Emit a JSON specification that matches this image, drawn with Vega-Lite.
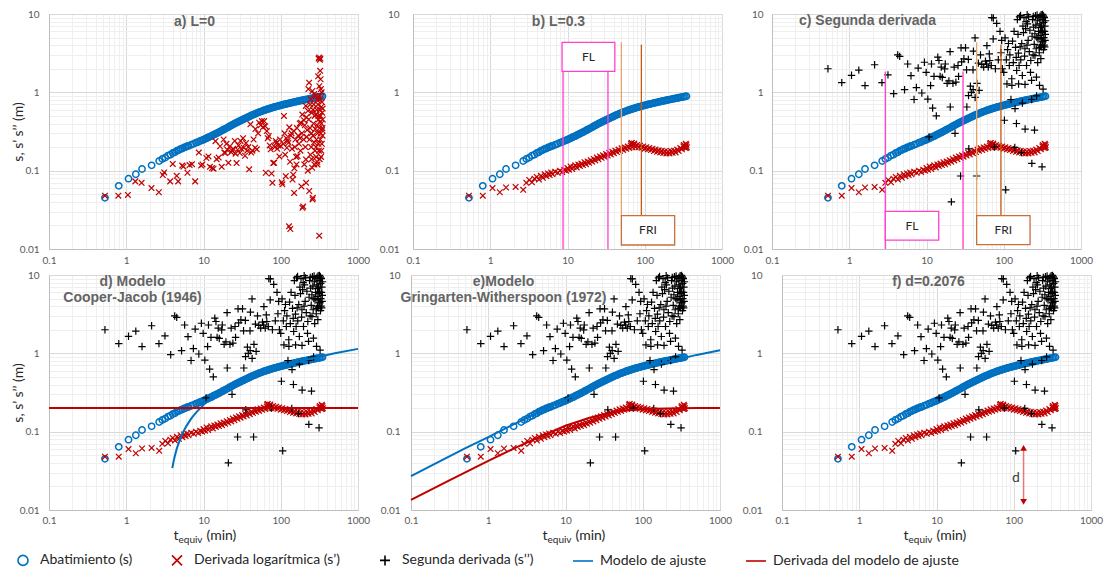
{
"$schema":"https://vega.github.io/schema/vega-lite/v6.json",
"padding":{"left":10,"top":7,"right":0,"bottom":0},
"config":{
"view":{"stroke":"#d9d9d9","strokeWidth":1},
"axis":{"labelFont":"Lato","labelFontSize":10,"labelColor":"#595959","ticks":false,"tickSize":0,"domainColor":"#bfbfbf","titleFont":"Lato","titleFontSize":14,"titleFontWeight":"normal","titleColor":"#262626","labelOverlap":false,"gridWidth":1},
"title":{"font":"Liberation Sans","fontSize":14,"fontWeight":"bold","color":"#646464","lineHeight":16},
"legend":{"labelFont":"Lato","labelFontSize":14,"labelColor":"#262626","labelLimit":400,"symbolSize":100,"symbolStrokeWidth":1.6,"columnPadding":35,"labelOffset":10,"padding":0,"symbolOpacity":1},
"range":{"category":["#0070c0","#c00000","#000000","#0070c0","#c00000"],"symbol":["circle","M-1,-1L1,1M1,-1L-1,1","M-1,0L1,0M0,-1L0,1","M-2,0L2,0","M-2,0L2,0"]}
},
"datasets":{
"s":[{"t":0.53,"v":0.045},{"t":0.8,"v":0.064},{"t":1.07,"v":0.079},{"t":1.33,"v":0.09},{"t":1.6,"v":0.105},{"t":2.13,"v":0.117},{"t":2.67,"v":0.133},{"t":2.93,"v":0.141},{"t":3.2,"v":0.147},{"t":3.47,"v":0.156},{"t":3.73,"v":0.16},{"t":4.0,"v":0.168},{"t":4.27,"v":0.172},{"t":4.53,"v":0.18},{"t":4.8,"v":0.183},{"t":5.07,"v":0.19},{"t":5.33,"v":0.192},{"t":5.6,"v":0.198},{"t":5.87,"v":0.2},{"t":6.13,"v":0.205},{"t":6.4,"v":0.207},{"t":6.93,"v":0.214},{"t":7.47,"v":0.22},{"t":8.0,"v":0.228},{"t":8.53,"v":0.232},{"t":9.07,"v":0.24},{"t":9.6,"v":0.244},{"t":10,"v":0.249},{"t":10.47,"v":0.254},{"t":10.96,"v":0.26},{"t":11.48,"v":0.265},{"t":12.02,"v":0.271},{"t":12.59,"v":0.276},{"t":13.18,"v":0.283},{"t":13.8,"v":0.29},{"t":14.45,"v":0.296},{"t":15.14,"v":0.303},{"t":15.85,"v":0.31},{"t":16.6,"v":0.318},{"t":17.38,"v":0.326},{"t":18.2,"v":0.334},{"t":19.05,"v":0.342},{"t":19.95,"v":0.35},{"t":20.89,"v":0.359},{"t":21.88,"v":0.369},{"t":22.91,"v":0.378},{"t":23.99,"v":0.388},{"t":25.12,"v":0.397},{"t":26.3,"v":0.407},{"t":27.54,"v":0.416},{"t":28.84,"v":0.426},{"t":30.2,"v":0.435},{"t":31.62,"v":0.445},{"t":33.11,"v":0.455},{"t":34.67,"v":0.465},{"t":36.31,"v":0.475},{"t":38.02,"v":0.485},{"t":39.81,"v":0.495},{"t":41.69,"v":0.506},{"t":43.65,"v":0.516},{"t":45.71,"v":0.527},{"t":47.86,"v":0.537},{"t":50.12,"v":0.548},{"t":52.48,"v":0.558},{"t":54.95,"v":0.568},{"t":57.54,"v":0.577},{"t":60.26,"v":0.587},{"t":63.1,"v":0.597},{"t":66.07,"v":0.606},{"t":69.18,"v":0.615},{"t":72.44,"v":0.624},{"t":75.86,"v":0.633},{"t":79.43,"v":0.642},{"t":83.18,"v":0.65},{"t":87.1,"v":0.658},{"t":91.2,"v":0.667},{"t":95.5,"v":0.675},{"t":100,"v":0.683},{"t":104.7,"v":0.691},{"t":109.6,"v":0.699},{"t":114.8,"v":0.706},{"t":120.2,"v":0.714},{"t":125.9,"v":0.722},{"t":131.8,"v":0.73},{"t":138,"v":0.738},{"t":144.5,"v":0.746},{"t":151.4,"v":0.754},{"t":158.5,"v":0.762},{"t":166,"v":0.77},{"t":173.8,"v":0.777},{"t":182,"v":0.785},{"t":190.5,"v":0.792},{"t":199.5,"v":0.8},{"t":208.9,"v":0.808},{"t":218.8,"v":0.815},{"t":229.1,"v":0.823},{"t":239.9,"v":0.83},{"t":251.2,"v":0.838},{"t":263,"v":0.846},{"t":275.4,"v":0.853},{"t":288.4,"v":0.861},{"t":302,"v":0.868},{"t":316.2,"v":0.876},{"t":331.1,"v":0.884},{"t":346.7,"v":0.893}],
"ds0":[{"t":0.53,"v":0.048},{"t":0.79,"v":0.048},{"t":1.05,"v":0.049},{"t":1.31,"v":0.073},{"t":1.58,"v":0.07},{"t":2.12,"v":0.06},{"t":2.64,"v":0.053},{"t":2.97,"v":0.088},{"t":3.1,"v":0.095},{"t":3.7,"v":0.073},{"t":4.0,"v":0.122},{"t":4.5,"v":0.086},{"t":4.7,"v":0.073},{"t":5.3,"v":0.116},{"t":5.5,"v":0.113},{"t":6.2,"v":0.094},{"t":6.6,"v":0.118},{"t":7.1,"v":0.121},{"t":7.8,"v":0.073},{"t":8.7,"v":0.17},{"t":9.3,"v":0.116},{"t":9.7,"v":0.12},{"t":10.9,"v":0.145},{"t":11.6,"v":0.152},{"t":12.1,"v":0.112},{"t":12.9,"v":0.108},{"t":13.5,"v":0.106},{"t":14.3,"v":0.238},{"t":14.8,"v":0.14},{"t":15.7,"v":0.147},{"t":16.4,"v":0.205},{"t":17.2,"v":0.112},{"t":18.2,"v":0.25},{"t":18.6,"v":0.17},{"t":19.2,"v":0.168},{"t":19.8,"v":0.22},{"t":20.3,"v":0.185},{"t":21,"v":0.126},{"t":22,"v":0.205},{"t":22.8,"v":0.172},{"t":23.5,"v":0.18},{"t":24.2,"v":0.19},{"t":25.4,"v":0.24},{"t":26,"v":0.165},{"t":26.8,"v":0.125},{"t":27.6,"v":0.185},{"t":28.4,"v":0.21},{"t":29.5,"v":0.168},{"t":30.2,"v":0.24},{"t":31,"v":0.19},{"t":32.5,"v":0.26},{"t":33.2,"v":0.196},{"t":34.5,"v":0.155},{"t":35.5,"v":0.225},{"t":36.8,"v":0.18},{"t":38,"v":0.2},{"t":39,"v":0.104},{"t":40.5,"v":0.39},{"t":41.5,"v":0.17},{"t":43,"v":0.18},{"t":44.5,"v":0.25},{"t":46.5,"v":0.196},{"t":47,"v":0.34},{"t":49,"v":0.187},{"t":51,"v":0.3},{"t":52.5,"v":0.41},{"t":55,"v":0.38},{"t":57,"v":0.43},{"t":59,"v":0.36},{"t":61,"v":0.43},{"t":63,"v":0.37},{"t":64,"v":0.094},{"t":66,"v":0.32},{"t":68,"v":0.26},{"t":70,"v":0.277},{"t":72,"v":0.21},{"t":74,"v":0.187},{"t":76,"v":0.092},{"t":78,"v":0.07},{"t":80,"v":0.125},{"t":82,"v":0.126},{"t":84,"v":0.2},{"t":86,"v":0.24},{"t":88,"v":0.226},{"t":90,"v":0.19},{"t":93,"v":0.21},{"t":96,"v":0.152},{"t":98,"v":0.25},{"t":100,"v":0.206},{"t":103,"v":0.071},{"t":105,"v":0.067},{"t":108,"v":0.22},{"t":110,"v":0.5},{"t":112,"v":0.3},{"t":114,"v":0.16},{"t":116,"v":0.085},{"t":118,"v":0.26},{"t":120,"v":0.196},{"t":123,"v":0.24},{"t":126,"v":0.227},{"t":128,"v":0.0195},{"t":129,"v":0.357},{"t":132,"v":0.13},{"t":133,"v":0.018},{"t":135,"v":0.28},{"t":138,"v":0.3},{"t":140,"v":0.19},{"t":142,"v":0.077},{"t":145,"v":0.089},{"t":148,"v":0.32},{"t":149,"v":0.052},{"t":150,"v":0.107},{"t":152,"v":0.2},{"t":155,"v":0.25},{"t":158,"v":0.15},{"t":160,"v":0.12},{"t":162,"v":0.35},{"t":165,"v":0.153},{"t":168,"v":0.28},{"t":172,"v":0.22},{"t":176,"v":0.4},{"t":178,"v":0.26},{"t":180,"v":0.18},{"t":182,"v":0.41},{"t":185,"v":0.063},{"t":188,"v":0.3},{"t":190,"v":0.52},{"t":191,"v":0.0335},{"t":195,"v":0.035},{"t":198,"v":0.25},{"t":200,"v":0.44},{"t":202,"v":0.12},{"t":205,"v":0.38},{"t":208,"v":0.2},{"t":211,"v":0.67},{"t":212,"v":0.139},{"t":213,"v":0.07},{"t":215,"v":0.48},{"t":216,"v":0.27},{"t":220,"v":0.33},{"t":224,"v":0.1},{"t":225,"v":0.58},{"t":228,"v":1.1},{"t":230,"v":0.45},{"t":233,"v":1.33},{"t":234,"v":0.055},{"t":236,"v":0.25},{"t":240,"v":0.35},{"t":241,"v":0.7},{"t":242,"v":0.16},{"t":245,"v":0.82},{"t":248,"v":0.2},{"t":250,"v":0.3},{"t":251,"v":0.14},{"t":252,"v":0.55},{"t":255,"v":0.109},{"t":257,"v":1.04},{"t":258,"v":0.043},{"t":260,"v":0.045},{"t":261,"v":0.6},{"t":262,"v":0.28},{"t":265,"v":0.4},{"t":268,"v":0.7},{"t":270,"v":0.23},{"t":271,"v":0.95},{"t":272,"v":0.12},{"t":275,"v":0.5},{"t":278,"v":0.18},{"t":280,"v":0.34},{"t":283,"v":0.9},{"t":285,"v":0.52},{"t":286,"v":0.2},{"t":287,"v":0.15},{"t":290,"v":0.25},{"t":292,"v":0.6},{"t":295,"v":0.38},{"t":296,"v":0.8},{"t":297,"v":0.13},{"t":299,"v":0.12},{"t":300,"v":0.3},{"t":303,"v":0.7},{"t":305,"v":1.6},{"t":306,"v":0.5},{"t":307,"v":0.22},{"t":309,"v":2.7},{"t":310,"v":0.45},{"t":312,"v":0.18},{"t":314,"v":2.79},{"t":315,"v":0.0148},{"t":316,"v":1.2},{"t":317,"v":0.9},{"t":318,"v":0.35},{"t":319,"v":0.14},{"t":320,"v":0.6},{"t":321,"v":2.6},{"t":322,"v":0.42},{"t":323,"v":0.82},{"t":324,"v":1.88},{"t":325,"v":0.25},{"t":326,"v":2.7},{"t":327,"v":0.5},{"t":328,"v":1.47},{"t":330,"v":0.3},{"t":331,"v":1.1},{"t":332,"v":0.15},{"t":334,"v":0.65},{"t":335,"v":0.18},{"t":336,"v":0.4},{"t":338,"v":1.0},{"t":340,"v":0.22},{"t":342,"v":0.75},{"t":343,"v":0.33},{"t":344,"v":0.55},{"t":346,"v":0.35},{"t":348,"v":0.28},{"t":349,"v":0.62},{"t":350,"v":0.45}],
"ds":[{"t":0.53,"v":0.048},{"t":0.8,"v":0.048},{"t":1.07,"v":0.06},{"t":1.33,"v":0.053},{"t":1.6,"v":0.061},{"t":2.13,"v":0.062},{"t":2.67,"v":0.057},{"t":2.93,"v":0.07},{"t":3.2,"v":0.076},{"t":3.47,"v":0.071},{"t":3.73,"v":0.079},{"t":4.0,"v":0.083},{"t":4.27,"v":0.077},{"t":4.53,"v":0.086},{"t":4.8,"v":0.081},{"t":5.07,"v":0.09},{"t":5.33,"v":0.085},{"t":5.6,"v":0.092},{"t":5.87,"v":0.088},{"t":6.13,"v":0.095},{"t":6.4,"v":0.09},{"t":6.93,"v":0.097},{"t":7.47,"v":0.094},{"t":8.0,"v":0.1},{"t":8.53,"v":0.096},{"t":9.07,"v":0.103},{"t":9.6,"v":0.1},{"t":10,"v":0.108},{"t":10.47,"v":0.103},{"t":10.96,"v":0.113},{"t":11.48,"v":0.105},{"t":12.02,"v":0.111},{"t":12.59,"v":0.117},{"t":13.18,"v":0.11},{"t":13.8,"v":0.12},{"t":14.45,"v":0.115},{"t":15.14,"v":0.123},{"t":15.85,"v":0.118},{"t":16.6,"v":0.128},{"t":17.38,"v":0.121},{"t":18.2,"v":0.131},{"t":19.05,"v":0.126},{"t":19.95,"v":0.136},{"t":20.89,"v":0.13},{"t":21.88,"v":0.141},{"t":22.91,"v":0.135},{"t":23.99,"v":0.147},{"t":25.12,"v":0.14},{"t":26.3,"v":0.152},{"t":27.54,"v":0.146},{"t":28.84,"v":0.157},{"t":30.2,"v":0.151},{"t":31.62,"v":0.163},{"t":33.11,"v":0.156},{"t":34.67,"v":0.168},{"t":36.31,"v":0.161},{"t":38.02,"v":0.174},{"t":39.81,"v":0.167},{"t":41.69,"v":0.18},{"t":43.65,"v":0.173},{"t":45.71,"v":0.186},{"t":47.86,"v":0.179},{"t":50.12,"v":0.193},{"t":52.48,"v":0.184},{"t":54.95,"v":0.198},{"t":57.54,"v":0.19},{"t":60.26,"v":0.203},{"t":63.1,"v":0.195},{"t":66.07,"v":0.209},{"t":66.5,"v":0.222},{"t":68,"v":0.226},{"t":69.18,"v":0.199},{"t":72.44,"v":0.214},{"t":73,"v":0.222},{"t":75.86,"v":0.201},{"t":79.43,"v":0.212},{"t":83.18,"v":0.199},{"t":87.1,"v":0.208},{"t":91.2,"v":0.196},{"t":95.5,"v":0.204},{"t":100,"v":0.191},{"t":104.7,"v":0.199},{"t":109.6,"v":0.187},{"t":114.8,"v":0.195},{"t":120.2,"v":0.183},{"t":125.9,"v":0.19},{"t":131.8,"v":0.178},{"t":138,"v":0.186},{"t":144.5,"v":0.174},{"t":151.4,"v":0.182},{"t":158.5,"v":0.171},{"t":166,"v":0.179},{"t":173.8,"v":0.168},{"t":182,"v":0.177},{"t":190.5,"v":0.166},{"t":199.5,"v":0.175},{"t":208.9,"v":0.166},{"t":218.8,"v":0.178},{"t":229.1,"v":0.169},{"t":239.9,"v":0.18},{"t":251.2,"v":0.171},{"t":263,"v":0.186},{"t":275.4,"v":0.178},{"t":288.4,"v":0.194},{"t":302,"v":0.187},{"t":316.2,"v":0.204},{"t":320,"v":0.212},{"t":331.1,"v":0.196},{"t":335,"v":0.205},{"t":340,"v":0.22},{"t":345,"v":0.195},{"t":346.7,"v":0.213},{"t":350,"v":0.2}],
"d2s":[{"t":0.53,"v":2.0},{"t":0.8,"v":1.33},{"t":1.07,"v":1.65},{"t":1.33,"v":1.92},{"t":1.6,"v":1.22},{"t":2.13,"v":2.25},{"t":2.65,"v":1.33},{"t":3.17,"v":1.67},{"t":3.76,"v":0.96},{"t":4.24,"v":3.0},{"t":4.5,"v":2.88},{"t":5.2,"v":1.08},{"t":5.7,"v":2.3},{"t":6.3,"v":1.63},{"t":6.9,"v":0.81},{"t":7.4,"v":1.15},{"t":7.8,"v":2.04},{"t":8.7,"v":0.98},{"t":9.4,"v":2.42},{"t":9.9,"v":1.8},{"t":10.4,"v":0.82},{"t":10.8,"v":0.27},{"t":11.3,"v":1.22},{"t":11.6,"v":2.3},{"t":12.0,"v":0.63},{"t":12.5,"v":1.6},{"t":13.4,"v":0.5},{"t":14.0,"v":2.81},{"t":14.5,"v":2.55},{"t":15.0,"v":1.6},{"t":15.5,"v":2.1},{"t":16.0,"v":1.55},{"t":17.2,"v":1.99},{"t":17.5,"v":2.3},{"t":18.5,"v":1.3},{"t":19.5,"v":1.4},{"t":20.2,"v":3.3},{"t":20.3,"v":0.65},{"t":21.0,"v":0.04},{"t":22.0,"v":1.3},{"t":22.8,"v":2.1},{"t":23.4,"v":0.3},{"t":24.0,"v":1.35},{"t":25.6,"v":2.2},{"t":26.0,"v":1.6},{"t":27.6,"v":0.0855},{"t":28.0,"v":3.7},{"t":28.5,"v":2.45},{"t":30.5,"v":2.68},{"t":32.0,"v":3.7},{"t":33.0,"v":1.94},{"t":33.3,"v":0.65},{"t":34.8,"v":2.63},{"t":35.3,"v":0.19},{"t":35.0,"v":0.91},{"t":37.0,"v":1.2},{"t":38.0,"v":1.0},{"t":40.0,"v":1.94},{"t":40.2,"v":1.08},{"t":40.5,"v":3.35},{"t":42.5,"v":4.95},{"t":42.6,"v":0.86},{"t":44.5,"v":0.0855},{"t":45.0,"v":1.3},{"t":47.0,"v":2.36},{"t":48.0,"v":1.06},{"t":50.0,"v":3.0},{"t":52.0,"v":2.27},{"t":55.0,"v":2.1},{"t":58.0,"v":2.5},{"t":60.0,"v":2.3},{"t":60.5,"v":3.95},{"t":63.0,"v":2.1},{"t":65.0,"v":3.1},{"t":66.0,"v":2.55},{"t":69.0,"v":2.2},{"t":70.0,"v":9.0},{"t":73.0,"v":4.8},{"t":73.4,"v":8.9},{"t":75.6,"v":0.2},{"t":78.0,"v":2.0},{"t":81.0,"v":7.6},{"t":85.0,"v":2.6},{"t":89.5,"v":6.0},{"t":92.0,"v":3.2},{"t":94.0,"v":4.6},{"t":96.0,"v":2.0},{"t":100.0,"v":1.8},{"t":102.0,"v":0.44},{"t":104.0,"v":4.95},{"t":106.0,"v":0.057},{"t":108.0,"v":2.6},{"t":110.0,"v":1.28},{"t":112.0,"v":3.5},{"t":115.0,"v":4.2},{"t":118.0,"v":2.2},{"t":120.0,"v":3.0},{"t":124.0,"v":0.81},{"t":127.0,"v":1.49},{"t":127.5,"v":1.23},{"t":130.0,"v":4.5},{"t":133.0,"v":2.4},{"t":136.0,"v":6.0},{"t":139.0,"v":0.198},{"t":140.0,"v":0.62},{"t":142.0,"v":3.75},{"t":145.0,"v":2.8},{"t":146.0,"v":0.4},{"t":147.0,"v":1.9},{"t":150.0,"v":8.5},{"t":153.0,"v":5.5},{"t":155.0,"v":3.16},{"t":155.5,"v":1.28},{"t":158.0,"v":2.2},{"t":160.0,"v":9.2},{"t":163.0,"v":3.8},{"t":165.0,"v":9.6},{"t":166.0,"v":2.6},{"t":170.0,"v":0.17},{"t":171.0,"v":4.2},{"t":174.0,"v":1.64},{"t":174.5,"v":0.73},{"t":177.0,"v":7.0},{"t":180.0,"v":5.8},{"t":183.0,"v":9.0},{"t":186.0,"v":2.9},{"t":188.0,"v":3.6},{"t":188.5,"v":1.26},{"t":189.0,"v":0.34},{"t":192.0,"v":6.5},{"t":195.0,"v":8.0},{"t":197.0,"v":2.2},{"t":200.0,"v":4.0},{"t":201.0,"v":9.8},{"t":203.0,"v":7.5},{"t":207.0,"v":4.6},{"t":210.0,"v":9.2},{"t":214.0,"v":3.3},{"t":218.0,"v":6.2},{"t":222.0,"v":1.8},{"t":224.0,"v":2.55},{"t":229.0,"v":1.42},{"t":230.0,"v":0.81},{"t":231.0,"v":0.124},{"t":233.0,"v":5.2},{"t":236.0,"v":8.5},{"t":240.0,"v":3.0},{"t":241.0,"v":9.3},{"t":244.0,"v":6.8},{"t":248.0,"v":4.1},{"t":250.0,"v":0.33},{"t":253.0,"v":5.6},{"t":253.5,"v":2.95},{"t":257.0,"v":9.5},{"t":260.0,"v":7.2},{"t":263.0,"v":3.6},{"t":265.0,"v":1.56},{"t":266.0,"v":0.9},{"t":268.0,"v":5.0},{"t":270.0,"v":9.7},{"t":272.0,"v":8.2},{"t":275.0,"v":2.4},{"t":278.0,"v":4.8},{"t":282.0,"v":6.0},{"t":285.0,"v":9.0},{"t":288.0,"v":3.2},{"t":290.0,"v":3.75},{"t":290.5,"v":1.23},{"t":293.0,"v":7.5},{"t":295.0,"v":9.4},{"t":296.0,"v":5.3},{"t":299.0,"v":4.0},{"t":300.0,"v":6.7},{"t":302.0,"v":2.7},{"t":305.0,"v":9.8},{"t":306.0,"v":4.8},{"t":308.0,"v":7.0},{"t":310.0,"v":3.8},{"t":312.0,"v":5.8},{"t":313.0,"v":0.112},{"t":315.0,"v":8.5},{"t":317.0,"v":4.5},{"t":318.0,"v":9.9},{"t":319.0,"v":6.2},{"t":321.0,"v":4.4},{"t":323.0,"v":1.1},{"t":325.0,"v":9.5},{"t":327.0,"v":3.5},{"t":329.0,"v":7.8},{"t":330.0,"v":9.2},{"t":331.0,"v":5.0},{"t":333.0,"v":4.0},{"t":335.0,"v":9.0},{"t":337.0,"v":6.0},{"t":339.0,"v":3.8},{"t":341.0,"v":7.0},{"t":343.0,"v":4.6},{"t":345.0,"v":5.5},{"t":347.0,"v":8.2}],
"cj":[{"t":3.95,"v":0.0343},{"t":4.05,"v":0.0393},{"t":4.2,"v":0.0465},{"t":4.5,"v":0.0603},{"t":5,"v":0.0814},{"t":5.5,"v":0.1003},{"t":6,"v":0.1178},{"t":7,"v":0.1486},{"t":8,"v":0.1753},{"t":10,"v":0.2199},{"t":12,"v":0.2562},{"t":15,"v":0.3008},{"t":20,"v":0.3583},{"t":30,"v":0.4393},{"t":50,"v":0.5414},{"t":100,"v":0.68},{"t":200,"v":0.8183},{"t":500,"v":1.0014},{"t":1000,"v":1.1399}],
"cjd":[{"t":0.1,"v":0.2},{"t":1000,"v":0.2}],
"gw":[{"t":0.1,"v":0.027},{"t":0.2,"v":0.0385},{"t":0.5,"v":0.061},{"t":1,"v":0.085},{"t":2,"v":0.12},{"t":3,"v":0.146},{"t":5,"v":0.187},{"t":10,"v":0.259},{"t":20,"v":0.353},{"t":30,"v":0.417},{"t":50,"v":0.506},{"t":100,"v":0.637},{"t":200,"v":0.773},{"t":500,"v":0.955},{"t":1000,"v":1.094}],
"gwd":[{"t":0.1,"v":0.0135},{"t":0.3,"v":0.0234},{"t":1,"v":0.0425},{"t":2,"v":0.059},{"t":3,"v":0.071},{"t":5,"v":0.089},{"t":10,"v":0.119},{"t":20,"v":0.15},{"t":30,"v":0.166},{"t":50,"v":0.183},{"t":100,"v":0.194},{"t":200,"v":0.198},{"t":500,"v":0.2},{"t":1000,"v":0.2}],
"bFLline":[{"t":8.75,"v":0.01,"v2":1.85},{"t":33.4,"v":0.01,"v2":1.85}],
"bFRIl1":[{"t":49.8,"v":0.0267,"v2":4.35}],
"bFRIl2":[{"t":90.4,"v":0.0267,"v2":4.06}],
"bFLbox":[{"t":8.5,"t2":41,"v":1.85,"v2":4.35}],
"bFRIbox":[{"t":49.8,"t2":244,"v":0.01125,"v2":0.0267}],
"bLab":[{"t":18.7,"v":2.84,"label":"FL"},{"t":110,"v":0.0173,"label":"FRI"}],
"cFLline":[{"t":2.93,"v":0.01,"v2":1.84},{"t":29.7,"v":0.01,"v2":1.84}],
"cFRIl1":[{"t":44.6,"v":0.0267,"v2":4.35}],
"cFRIl2":[{"t":92,"v":0.0267,"v2":4.06}],
"cFLbox":[{"t":2.93,"t2":14.4,"v":0.013,"v2":0.0303}],
"cFRIbox":[{"t":44.6,"t2":219,"v":0.0114,"v2":0.0267}],
"cLab":[{"t":6.5,"v":0.0198,"label":"FL"},{"t":98.8,"v":0.01745,"label":"FRI"}],
"arrow":[{"t":134,"v":0.0125,"v2":0.063}],
"arrTop":[{"t":134,"v":0.062}],
"arrBot":[{"t":134,"v":0.0127}],
"dLab":[{"t":107,"v":0.0258,"label":"d"}]
},
"spacing":2,
"vconcat":[
{"spacing":7,"hconcat":[
{"width":309,"height":235,
"title":{"text":"a) L=0","anchor":"middle","dx":-9,"offset":-20,"frame":"group","orient":"top","font":"Liberation Sans","fontSize":14,"fontWeight":"bold","color":"#646464","lineHeight":16},
"encoding":{
"x":{"field":"t","type":"quantitative","scale":{"type":"log","domain":[0.1,1000],"nice":false},"axis":{"orient":"bottom","values":[0.1,0.2,0.3,0.4,0.5,0.6,0.7,0.8,0.9,1,2,3,4,5,6,7,8,9,10,20,30,40,50,60,70,80,90,100,200,300,400,500,600,700,800,900,1000],"format":"~g","labelExpr":"indexof([0.1,1,10,100,1000],datum.value)>=0?datum.label:''","gridColor":{"condition":{"test":"indexof([0.1,1,10,100,1000],datum.value)>=0","value":"#d9d9d9"},"value":"#efefef"},"labelFlush":false,"labelPadding":6,"title":null}},
"y":{"field":"v","type":"quantitative","scale":{"type":"log","domain":[0.01,10],"nice":false},"axis":{"values":[0.01,0.02,0.03,0.04,0.05,0.06,0.07,0.08,0.09,0.1,0.2,0.3,0.4,0.5,0.6,0.7,0.8,0.9,1,2,3,4,5,6,7,8,9,10],"format":"~g","labelExpr":"indexof([0.01,0.1,1,10],datum.value)>=0?datum.label:''","gridColor":{"condition":{"test":"indexof([0.01,0.1,1,10],datum.value)>=0","value":"#d9d9d9"},"value":"#efefef"},"labelPadding":10,"title":"s, s’ s’’ (m)","titlePadding":-6}}},
"layer":[
{"data":{"name":"s"},"mark":{"type":"point","filled":false,"size":40,"strokeWidth":1.5,"opacity":1},"encoding":{"color":{"datum":"Abatimiento (s)","type":"nominal","scale":{"domain":["Abatimiento (s)","Derivada logarítmica (s’)","Segunda derivada (s’’)","Modelo de ajuste","Derivada del modelo de ajuste"]},"legend":{"title":null,"orient":"none","legendX":-33,"legendY":539,"direction":"horizontal"}},"shape":{"datum":"Abatimiento (s)","type":"nominal","scale":{"domain":["Abatimiento (s)","Derivada logarítmica (s’)","Segunda derivada (s’’)","Modelo de ajuste","Derivada del modelo de ajuste"]},"legend":{"title":null,"orient":"none","legendX":-33,"legendY":539,"direction":"horizontal"}}}},
{"data":{"name":"ds0"},"mark":{"type":"point","filled":false,"size":32,"strokeWidth":1.2,"opacity":1},"encoding":{"color":{"datum":"Derivada logarítmica (s’)","type":"nominal","scale":{"domain":["Abatimiento (s)","Derivada logarítmica (s’)","Segunda derivada (s’’)","Modelo de ajuste","Derivada del modelo de ajuste"]},"legend":{"title":null,"orient":"none","legendX":-33,"legendY":539,"direction":"horizontal"}},"shape":{"datum":"Derivada logarítmica (s’)","type":"nominal","scale":{"domain":["Abatimiento (s)","Derivada logarítmica (s’)","Segunda derivada (s’’)","Modelo de ajuste","Derivada del modelo de ajuste"]},"legend":{"title":null,"orient":"none","legendX":-33,"legendY":539,"direction":"horizontal"}}}}
]},
{"width":309,"height":235,
"title":{"text":"b) L=0.3","anchor":"middle","dx":-9,"offset":-20,"frame":"group","orient":"top","font":"Liberation Sans","fontSize":14,"fontWeight":"bold","color":"#646464","lineHeight":16},
"encoding":{
"x":{"field":"t","type":"quantitative","scale":{"type":"log","domain":[0.1,1000],"nice":false},"axis":{"orient":"bottom","values":[0.1,0.2,0.3,0.4,0.5,0.6,0.7,0.8,0.9,1,2,3,4,5,6,7,8,9,10,20,30,40,50,60,70,80,90,100,200,300,400,500,600,700,800,900,1000],"format":"~g","labelExpr":"indexof([0.1,1,10,100,1000],datum.value)>=0?datum.label:''","gridColor":{"condition":{"test":"indexof([0.1,1,10,100,1000],datum.value)>=0","value":"#d9d9d9"},"value":"#efefef"},"labelFlush":false,"labelPadding":6,"title":null}},
"y":{"field":"v","type":"quantitative","scale":{"type":"log","domain":[0.01,10],"nice":false},"axis":{"values":[0.01,0.02,0.03,0.04,0.05,0.06,0.07,0.08,0.09,0.1,0.2,0.3,0.4,0.5,0.6,0.7,0.8,0.9,1,2,3,4,5,6,7,8,9,10],"format":"~g","labelExpr":"indexof([0.01,0.1,1,10],datum.value)>=0?datum.label:''","gridColor":{"condition":{"test":"indexof([0.01,0.1,1,10],datum.value)>=0","value":"#d9d9d9"},"value":"#efefef"},"labelPadding":14,"title":null}}},
"layer":[
{"data":{"name":"s"},"mark":{"type":"point","filled":false,"size":40,"strokeWidth":1.5,"opacity":1},"encoding":{"color":{"datum":"Abatimiento (s)","type":"nominal","scale":{"domain":["Abatimiento (s)","Derivada logarítmica (s’)","Segunda derivada (s’’)","Modelo de ajuste","Derivada del modelo de ajuste"]},"legend":{"title":null,"orient":"none","legendX":-33,"legendY":539,"direction":"horizontal"}},"shape":{"datum":"Abatimiento (s)","type":"nominal","scale":{"domain":["Abatimiento (s)","Derivada logarítmica (s’)","Segunda derivada (s’’)","Modelo de ajuste","Derivada del modelo de ajuste"]},"legend":{"title":null,"orient":"none","legendX":-33,"legendY":539,"direction":"horizontal"}}}},
{"data":{"name":"ds"},"mark":{"type":"point","filled":false,"size":32,"strokeWidth":1.2,"opacity":1},"encoding":{"color":{"datum":"Derivada logarítmica (s’)","type":"nominal","scale":{"domain":["Abatimiento (s)","Derivada logarítmica (s’)","Segunda derivada (s’’)","Modelo de ajuste","Derivada del modelo de ajuste"]},"legend":{"title":null,"orient":"none","legendX":-33,"legendY":539,"direction":"horizontal"}},"shape":{"datum":"Derivada logarítmica (s’)","type":"nominal","scale":{"domain":["Abatimiento (s)","Derivada logarítmica (s’)","Segunda derivada (s’’)","Modelo de ajuste","Derivada del modelo de ajuste"]},"legend":{"title":null,"orient":"none","legendX":-33,"legendY":539,"direction":"horizontal"}}}},
{"data":{"name":"bFLline"},"mark":{"type":"rule","color":"#ff40cc","strokeWidth":1.3},"encoding":{"y2":{"field":"v2"}}},
{"data":{"name":"bFRIl1"},"mark":{"type":"rule","color":"#e8a46c","strokeWidth":1.3},"encoding":{"y2":{"field":"v2"}}},
{"data":{"name":"bFRIl2"},"mark":{"type":"rule","color":"#c55a11","strokeWidth":1.3},"encoding":{"y2":{"field":"v2"}}},
{"data":{"name":"bFLbox"},"mark":{"type":"rect","fill":"white","stroke":"#ff40cc","strokeWidth":1.3},"encoding":{"x2":{"field":"t2"},"y2":{"field":"v2"}}},
{"data":{"name":"bFRIbox"},"mark":{"type":"rect","fill":"white","stroke":"#c8703a","strokeWidth":1.3},"encoding":{"x2":{"field":"t2"},"y2":{"field":"v2"}}},
{"data":{"name":"bLab"},"mark":{"type":"text","font":"Lato","fontSize":12,"color":"#262626"},"encoding":{"text":{"field":"label","type":"nominal"}}}
]},
{"width":309,"height":235,
"title":{"text":"c) Segunda derivada","anchor":"start","dx":27,"offset":-20,"frame":"group","orient":"top","font":"Liberation Sans","fontSize":14,"fontWeight":"bold","color":"#646464","lineHeight":16},
"encoding":{
"x":{"field":"t","type":"quantitative","scale":{"type":"log","domain":[0.1,1000],"nice":false},"axis":{"orient":"bottom","values":[0.1,0.2,0.3,0.4,0.5,0.6,0.7,0.8,0.9,1,2,3,4,5,6,7,8,9,10,20,30,40,50,60,70,80,90,100,200,300,400,500,600,700,800,900,1000],"format":"~g","labelExpr":"indexof([0.1,1,10,100,1000],datum.value)>=0?datum.label:''","gridColor":{"condition":{"test":"indexof([0.1,1,10,100,1000],datum.value)>=0","value":"#d9d9d9"},"value":"#efefef"},"labelFlush":false,"labelPadding":6,"title":null}},
"y":{"field":"v","type":"quantitative","scale":{"type":"log","domain":[0.01,10],"nice":false},"axis":{"values":[0.01,0.02,0.03,0.04,0.05,0.06,0.07,0.08,0.09,0.1,0.2,0.3,0.4,0.5,0.6,0.7,0.8,0.9,1,2,3,4,5,6,7,8,9,10],"format":"~g","labelExpr":"indexof([0.01,0.1,1,10],datum.value)>=0?datum.label:''","gridColor":{"condition":{"test":"indexof([0.01,0.1,1,10],datum.value)>=0","value":"#d9d9d9"},"value":"#efefef"},"labelPadding":9,"title":null}}},
"layer":[
{"data":{"name":"s"},"mark":{"type":"point","filled":false,"size":40,"strokeWidth":1.5,"opacity":1},"encoding":{"color":{"datum":"Abatimiento (s)","type":"nominal","scale":{"domain":["Abatimiento (s)","Derivada logarítmica (s’)","Segunda derivada (s’’)","Modelo de ajuste","Derivada del modelo de ajuste"]},"legend":{"title":null,"orient":"none","legendX":-33,"legendY":539,"direction":"horizontal"}},"shape":{"datum":"Abatimiento (s)","type":"nominal","scale":{"domain":["Abatimiento (s)","Derivada logarítmica (s’)","Segunda derivada (s’’)","Modelo de ajuste","Derivada del modelo de ajuste"]},"legend":{"title":null,"orient":"none","legendX":-33,"legendY":539,"direction":"horizontal"}}}},
{"data":{"name":"ds"},"mark":{"type":"point","filled":false,"size":32,"strokeWidth":1.2,"opacity":1},"encoding":{"color":{"datum":"Derivada logarítmica (s’)","type":"nominal","scale":{"domain":["Abatimiento (s)","Derivada logarítmica (s’)","Segunda derivada (s’’)","Modelo de ajuste","Derivada del modelo de ajuste"]},"legend":{"title":null,"orient":"none","legendX":-33,"legendY":539,"direction":"horizontal"}},"shape":{"datum":"Derivada logarítmica (s’)","type":"nominal","scale":{"domain":["Abatimiento (s)","Derivada logarítmica (s’)","Segunda derivada (s’’)","Modelo de ajuste","Derivada del modelo de ajuste"]},"legend":{"title":null,"orient":"none","legendX":-33,"legendY":539,"direction":"horizontal"}}}},
{"data":{"name":"d2s"},"mark":{"type":"point","filled":false,"size":55,"strokeWidth":1.2,"opacity":1},"encoding":{"color":{"datum":"Segunda derivada (s’’)","type":"nominal","scale":{"domain":["Abatimiento (s)","Derivada logarítmica (s’)","Segunda derivada (s’’)","Modelo de ajuste","Derivada del modelo de ajuste"]},"legend":{"title":null,"orient":"none","legendX":-33,"legendY":539,"direction":"horizontal"}},"shape":{"datum":"Segunda derivada (s’’)","type":"nominal","scale":{"domain":["Abatimiento (s)","Derivada logarítmica (s’)","Segunda derivada (s’’)","Modelo de ajuste","Derivada del modelo de ajuste"]},"legend":{"title":null,"orient":"none","legendX":-33,"legendY":539,"direction":"horizontal"}}}},
{"data":{"name":"cFLline"},"mark":{"type":"rule","color":"#ff40cc","strokeWidth":1.3},"encoding":{"y2":{"field":"v2"}}},
{"data":{"name":"cFRIl1"},"mark":{"type":"rule","color":"#e8a46c","strokeWidth":1.3},"encoding":{"y2":{"field":"v2"}}},
{"data":{"name":"cFRIl2"},"mark":{"type":"rule","color":"#c55a11","strokeWidth":1.3},"encoding":{"y2":{"field":"v2"}}},
{"data":{"name":"cFLbox"},"mark":{"type":"rect","fill":"white","stroke":"#ff40cc","strokeWidth":1.3},"encoding":{"x2":{"field":"t2"},"y2":{"field":"v2"}}},
{"data":{"name":"cFRIbox"},"mark":{"type":"rect","fill":"white","stroke":"#c8703a","strokeWidth":1.3},"encoding":{"x2":{"field":"t2"},"y2":{"field":"v2"}}},
{"data":{"name":"cLab"},"mark":{"type":"text","font":"Lato","fontSize":12,"color":"#262626"},"encoding":{"text":{"field":"label","type":"nominal"}}}
]}
]},
{"spacing":8,"hconcat":[
{"width":309,"height":235,
"title":{"text":["d) Modelo","Cooper-Jacob (1946)"],"anchor":"middle","dx":-71,"offset":-36,"frame":"group","orient":"top","font":"Liberation Sans","fontSize":14,"fontWeight":"bold","color":"#646464","lineHeight":16},
"resolve":{"axis":{"x":"independent"}},
"encoding":{
"x":{"field":"t","type":"quantitative","scale":{"type":"log","domain":[0.1,1000],"nice":false},"axis":null},
"y":{"field":"v","type":"quantitative","scale":{"type":"log","domain":[0.01,10],"nice":false},"axis":{"values":[0.01,0.02,0.03,0.04,0.05,0.06,0.07,0.08,0.09,0.1,0.2,0.3,0.4,0.5,0.6,0.7,0.8,0.9,1,2,3,4,5,6,7,8,9,10],"format":"~g","labelExpr":"indexof([0.01,0.1,1,10],datum.value)>=0?datum.label:''","gridColor":{"condition":{"test":"indexof([0.01,0.1,1,10],datum.value)>=0","value":"#d9d9d9"},"value":"#efefef"},"labelPadding":10,"title":"s, s’ s’’ (m)","titlePadding":-6}}},
"layer":[
{"data":{"name":"s"},"mark":{"type":"point","filled":false,"size":40,"strokeWidth":1.5,"opacity":1},"encoding":{"x":{"field":"t","type":"quantitative","scale":{"type":"log","domain":[0.1,1000],"nice":false},"axis":{"orient":"bottom","values":[0.1,0.2,0.3,0.4,0.5,0.6,0.7,0.8,0.9,1,2,3,4,5,6,7,8,9,10,20,30,40,50,60,70,80,90,100,200,300,400,500,600,700,800,900,1000],"format":"~g","labelExpr":"indexof([0.1,1,10,100,1000],datum.value)>=0?datum.label:''","gridColor":{"condition":{"test":"indexof([0.1,1,10,100,1000],datum.value)>=0","value":"#d9d9d9"},"value":"#efefef"},"labelFlush":false,"labelPadding":5,"title":"t","titleX":124,"titleY":29,"titleAlign":"left","titleBaseline":"alphabetic"}},"color":{"datum":"Abatimiento (s)","type":"nominal","scale":{"domain":["Abatimiento (s)","Derivada logarítmica (s’)","Segunda derivada (s’’)","Modelo de ajuste","Derivada del modelo de ajuste"]},"legend":{"title":null,"orient":"none","legendX":-33,"legendY":539,"direction":"horizontal"}},"shape":{"datum":"Abatimiento (s)","type":"nominal","scale":{"domain":["Abatimiento (s)","Derivada logarítmica (s’)","Segunda derivada (s’’)","Modelo de ajuste","Derivada del modelo de ajuste"]},"legend":{"title":null,"orient":"none","legendX":-33,"legendY":539,"direction":"horizontal"}}}},
{"data":{"name":"ds"},"mark":{"type":"point","filled":false,"size":32,"strokeWidth":1.2,"opacity":1},"encoding":{"x":{"field":"t","type":"quantitative","scale":{"type":"log","domain":[0.1,1000],"nice":false},"axis":{"orient":"bottom","labels":false,"ticks":false,"domain":false,"grid":false,"title":"equiv","titleFontSize":10,"titleX":129,"titleY":32,"titleAlign":"left","titleBaseline":"alphabetic"}},"color":{"datum":"Derivada logarítmica (s’)","type":"nominal","scale":{"domain":["Abatimiento (s)","Derivada logarítmica (s’)","Segunda derivada (s’’)","Modelo de ajuste","Derivada del modelo de ajuste"]},"legend":{"title":null,"orient":"none","legendX":-33,"legendY":539,"direction":"horizontal"}},"shape":{"datum":"Derivada logarítmica (s’)","type":"nominal","scale":{"domain":["Abatimiento (s)","Derivada logarítmica (s’)","Segunda derivada (s’’)","Modelo de ajuste","Derivada del modelo de ajuste"]},"legend":{"title":null,"orient":"none","legendX":-33,"legendY":539,"direction":"horizontal"}}}},
{"data":{"name":"d2s"},"mark":{"type":"point","filled":false,"size":55,"strokeWidth":1.2,"opacity":1},"encoding":{"x":{"field":"t","type":"quantitative","scale":{"type":"log","domain":[0.1,1000],"nice":false},"axis":{"orient":"bottom","labels":false,"ticks":false,"domain":false,"grid":false,"title":"(min)","titleX":157,"titleY":29,"titleAlign":"left","titleBaseline":"alphabetic"}},"color":{"datum":"Segunda derivada (s’’)","type":"nominal","scale":{"domain":["Abatimiento (s)","Derivada logarítmica (s’)","Segunda derivada (s’’)","Modelo de ajuste","Derivada del modelo de ajuste"]},"legend":{"title":null,"orient":"none","legendX":-33,"legendY":539,"direction":"horizontal"}},"shape":{"datum":"Segunda derivada (s’’)","type":"nominal","scale":{"domain":["Abatimiento (s)","Derivada logarítmica (s’)","Segunda derivada (s’’)","Modelo de ajuste","Derivada del modelo de ajuste"]},"legend":{"title":null,"orient":"none","legendX":-33,"legendY":539,"direction":"horizontal"}}}},
{"data":{"name":"cj"},"mark":{"type":"line","strokeWidth":2},"encoding":{"color":{"datum":"Modelo de ajuste","type":"nominal","scale":{"domain":["Abatimiento (s)","Derivada logarítmica (s’)","Segunda derivada (s’’)","Modelo de ajuste","Derivada del modelo de ajuste"]},"legend":{"title":null,"orient":"none","legendX":-33,"legendY":539,"direction":"horizontal"}}}},
{"data":{"name":"cjd"},"mark":{"type":"line","strokeWidth":2},"encoding":{"color":{"datum":"Derivada del modelo de ajuste","type":"nominal","scale":{"domain":["Abatimiento (s)","Derivada logarítmica (s’)","Segunda derivada (s’’)","Modelo de ajuste","Derivada del modelo de ajuste"]},"legend":{"title":null,"orient":"none","legendX":-33,"legendY":539,"direction":"horizontal"}}}}
]},
{"width":309,"height":235,
"title":{"text":["e)Modelo","Gringarten-Witherspoon (1972)"],"anchor":"middle","dx":-62,"offset":-36,"frame":"group","orient":"top","font":"Liberation Sans","fontSize":14,"fontWeight":"bold","color":"#646464","lineHeight":16},
"resolve":{"axis":{"x":"independent"}},
"encoding":{
"x":{"field":"t","type":"quantitative","scale":{"type":"log","domain":[0.1,1000],"nice":false},"axis":null},
"y":{"field":"v","type":"quantitative","scale":{"type":"log","domain":[0.01,10],"nice":false},"axis":{"values":[0.01,0.02,0.03,0.04,0.05,0.06,0.07,0.08,0.09,0.1,0.2,0.3,0.4,0.5,0.6,0.7,0.8,0.9,1,2,3,4,5,6,7,8,9,10],"format":"~g","labelExpr":"indexof([0.01,0.1,1,10],datum.value)>=0?datum.label:''","gridColor":{"condition":{"test":"indexof([0.01,0.1,1,10],datum.value)>=0","value":"#d9d9d9"},"value":"#efefef"},"labelPadding":11,"title":null}}},
"layer":[
{"data":{"name":"s"},"mark":{"type":"point","filled":false,"size":40,"strokeWidth":1.5,"opacity":1},"encoding":{"x":{"field":"t","type":"quantitative","scale":{"type":"log","domain":[0.1,1000],"nice":false},"axis":{"orient":"bottom","values":[0.1,0.2,0.3,0.4,0.5,0.6,0.7,0.8,0.9,1,2,3,4,5,6,7,8,9,10,20,30,40,50,60,70,80,90,100,200,300,400,500,600,700,800,900,1000],"format":"~g","labelExpr":"indexof([0.1,1,10,100,1000],datum.value)>=0?datum.label:''","gridColor":{"condition":{"test":"indexof([0.1,1,10,100,1000],datum.value)>=0","value":"#d9d9d9"},"value":"#efefef"},"labelFlush":false,"labelPadding":5,"title":"t","titleX":131,"titleY":29,"titleAlign":"left","titleBaseline":"alphabetic"}},"color":{"datum":"Abatimiento (s)","type":"nominal","scale":{"domain":["Abatimiento (s)","Derivada logarítmica (s’)","Segunda derivada (s’’)","Modelo de ajuste","Derivada del modelo de ajuste"]},"legend":{"title":null,"orient":"none","legendX":-33,"legendY":539,"direction":"horizontal"}},"shape":{"datum":"Abatimiento (s)","type":"nominal","scale":{"domain":["Abatimiento (s)","Derivada logarítmica (s’)","Segunda derivada (s’’)","Modelo de ajuste","Derivada del modelo de ajuste"]},"legend":{"title":null,"orient":"none","legendX":-33,"legendY":539,"direction":"horizontal"}}}},
{"data":{"name":"ds"},"mark":{"type":"point","filled":false,"size":32,"strokeWidth":1.2,"opacity":1},"encoding":{"x":{"field":"t","type":"quantitative","scale":{"type":"log","domain":[0.1,1000],"nice":false},"axis":{"orient":"bottom","labels":false,"ticks":false,"domain":false,"grid":false,"title":"equiv","titleFontSize":10,"titleX":136,"titleY":32,"titleAlign":"left","titleBaseline":"alphabetic"}},"color":{"datum":"Derivada logarítmica (s’)","type":"nominal","scale":{"domain":["Abatimiento (s)","Derivada logarítmica (s’)","Segunda derivada (s’’)","Modelo de ajuste","Derivada del modelo de ajuste"]},"legend":{"title":null,"orient":"none","legendX":-33,"legendY":539,"direction":"horizontal"}},"shape":{"datum":"Derivada logarítmica (s’)","type":"nominal","scale":{"domain":["Abatimiento (s)","Derivada logarítmica (s’)","Segunda derivada (s’’)","Modelo de ajuste","Derivada del modelo de ajuste"]},"legend":{"title":null,"orient":"none","legendX":-33,"legendY":539,"direction":"horizontal"}}}},
{"data":{"name":"d2s"},"mark":{"type":"point","filled":false,"size":55,"strokeWidth":1.2,"opacity":1},"encoding":{"x":{"field":"t","type":"quantitative","scale":{"type":"log","domain":[0.1,1000],"nice":false},"axis":{"orient":"bottom","labels":false,"ticks":false,"domain":false,"grid":false,"title":"(min)","titleX":164,"titleY":29,"titleAlign":"left","titleBaseline":"alphabetic"}},"color":{"datum":"Segunda derivada (s’’)","type":"nominal","scale":{"domain":["Abatimiento (s)","Derivada logarítmica (s’)","Segunda derivada (s’’)","Modelo de ajuste","Derivada del modelo de ajuste"]},"legend":{"title":null,"orient":"none","legendX":-33,"legendY":539,"direction":"horizontal"}},"shape":{"datum":"Segunda derivada (s’’)","type":"nominal","scale":{"domain":["Abatimiento (s)","Derivada logarítmica (s’)","Segunda derivada (s’’)","Modelo de ajuste","Derivada del modelo de ajuste"]},"legend":{"title":null,"orient":"none","legendX":-33,"legendY":539,"direction":"horizontal"}}}},
{"data":{"name":"gw"},"mark":{"type":"line","strokeWidth":2},"encoding":{"color":{"datum":"Modelo de ajuste","type":"nominal","scale":{"domain":["Abatimiento (s)","Derivada logarítmica (s’)","Segunda derivada (s’’)","Modelo de ajuste","Derivada del modelo de ajuste"]},"legend":{"title":null,"orient":"none","legendX":-33,"legendY":539,"direction":"horizontal"}}}},
{"data":{"name":"gwd"},"mark":{"type":"line","strokeWidth":2},"encoding":{"color":{"datum":"Derivada del modelo de ajuste","type":"nominal","scale":{"domain":["Abatimiento (s)","Derivada logarítmica (s’)","Segunda derivada (s’’)","Modelo de ajuste","Derivada del modelo de ajuste"]},"legend":{"title":null,"orient":"none","legendX":-33,"legendY":539,"direction":"horizontal"}}}}
]},
{"width":309,"height":235,
"title":{"text":"f) d=0.2076","anchor":"middle","dx":-8,"offset":-20,"frame":"group","orient":"top","font":"Liberation Sans","fontSize":14,"fontWeight":"bold","color":"#646464","lineHeight":16},
"resolve":{"axis":{"x":"independent"}},
"encoding":{
"x":{"field":"t","type":"quantitative","scale":{"type":"log","domain":[0.1,1000],"nice":false},"axis":null},
"y":{"field":"v","type":"quantitative","scale":{"type":"log","domain":[0.01,10],"nice":false},"axis":{"values":[0.01,0.02,0.03,0.04,0.05,0.06,0.07,0.08,0.09,0.1,0.2,0.3,0.4,0.5,0.6,0.7,0.8,0.9,1,2,3,4,5,6,7,8,9,10],"format":"~g","labelExpr":"indexof([0.01,0.1,1,10],datum.value)>=0?datum.label:''","gridColor":{"condition":{"test":"indexof([0.01,0.1,1,10],datum.value)>=0","value":"#d9d9d9"},"value":"#efefef"},"labelPadding":20,"title":null}}},
"layer":[
{"data":{"name":"s"},"mark":{"type":"point","filled":false,"size":40,"strokeWidth":1.5,"opacity":1},"encoding":{"x":{"field":"t","type":"quantitative","scale":{"type":"log","domain":[0.1,1000],"nice":false},"axis":{"orient":"bottom","values":[0.1,0.2,0.3,0.4,0.5,0.6,0.7,0.8,0.9,1,2,3,4,5,6,7,8,9,10,20,30,40,50,60,70,80,90,100,200,300,400,500,600,700,800,900,1000],"format":"~g","labelExpr":"indexof([0.1,1,10,100,1000],datum.value)>=0?datum.label:''","gridColor":{"condition":{"test":"indexof([0.1,1,10,100,1000],datum.value)>=0","value":"#d9d9d9"},"value":"#efefef"},"labelFlush":false,"labelPadding":5,"title":"t","titleX":121,"titleY":29,"titleAlign":"left","titleBaseline":"alphabetic"}},"color":{"datum":"Abatimiento (s)","type":"nominal","scale":{"domain":["Abatimiento (s)","Derivada logarítmica (s’)","Segunda derivada (s’’)","Modelo de ajuste","Derivada del modelo de ajuste"]},"legend":{"title":null,"orient":"none","legendX":-33,"legendY":539,"direction":"horizontal"}},"shape":{"datum":"Abatimiento (s)","type":"nominal","scale":{"domain":["Abatimiento (s)","Derivada logarítmica (s’)","Segunda derivada (s’’)","Modelo de ajuste","Derivada del modelo de ajuste"]},"legend":{"title":null,"orient":"none","legendX":-33,"legendY":539,"direction":"horizontal"}}}},
{"data":{"name":"ds"},"mark":{"type":"point","filled":false,"size":32,"strokeWidth":1.2,"opacity":1},"encoding":{"x":{"field":"t","type":"quantitative","scale":{"type":"log","domain":[0.1,1000],"nice":false},"axis":{"orient":"bottom","labels":false,"ticks":false,"domain":false,"grid":false,"title":"equiv","titleFontSize":10,"titleX":126,"titleY":32,"titleAlign":"left","titleBaseline":"alphabetic"}},"color":{"datum":"Derivada logarítmica (s’)","type":"nominal","scale":{"domain":["Abatimiento (s)","Derivada logarítmica (s’)","Segunda derivada (s’’)","Modelo de ajuste","Derivada del modelo de ajuste"]},"legend":{"title":null,"orient":"none","legendX":-33,"legendY":539,"direction":"horizontal"}},"shape":{"datum":"Derivada logarítmica (s’)","type":"nominal","scale":{"domain":["Abatimiento (s)","Derivada logarítmica (s’)","Segunda derivada (s’’)","Modelo de ajuste","Derivada del modelo de ajuste"]},"legend":{"title":null,"orient":"none","legendX":-33,"legendY":539,"direction":"horizontal"}}}},
{"data":{"name":"d2s"},"mark":{"type":"point","filled":false,"size":55,"strokeWidth":1.2,"opacity":1},"encoding":{"x":{"field":"t","type":"quantitative","scale":{"type":"log","domain":[0.1,1000],"nice":false},"axis":{"orient":"bottom","labels":false,"ticks":false,"domain":false,"grid":false,"title":"(min)","titleX":154,"titleY":29,"titleAlign":"left","titleBaseline":"alphabetic"}},"color":{"datum":"Segunda derivada (s’’)","type":"nominal","scale":{"domain":["Abatimiento (s)","Derivada logarítmica (s’)","Segunda derivada (s’’)","Modelo de ajuste","Derivada del modelo de ajuste"]},"legend":{"title":null,"orient":"none","legendX":-33,"legendY":539,"direction":"horizontal"}},"shape":{"datum":"Segunda derivada (s’’)","type":"nominal","scale":{"domain":["Abatimiento (s)","Derivada logarítmica (s’)","Segunda derivada (s’’)","Modelo de ajuste","Derivada del modelo de ajuste"]},"legend":{"title":null,"orient":"none","legendX":-33,"legendY":539,"direction":"horizontal"}}}},
{"data":{"name":"arrow"},"mark":{"type":"rule","color":"#e87878","strokeWidth":1.5},"encoding":{"y2":{"field":"v2"}}},
{"data":{"name":"arrTop"},"mark":{"type":"point","shape":"triangle-up","filled":true,"color":"#c00000","size":45,"opacity":1},"encoding":{}},
{"data":{"name":"arrBot"},"mark":{"type":"point","shape":"triangle-down","filled":true,"color":"#c00000","size":45,"opacity":1},"encoding":{}},
{"data":{"name":"dLab"},"mark":{"type":"text","font":"Lato","fontSize":14,"color":"#404040"},"encoding":{"text":{"field":"label","type":"nominal"}}}
]}
]}
]
}
